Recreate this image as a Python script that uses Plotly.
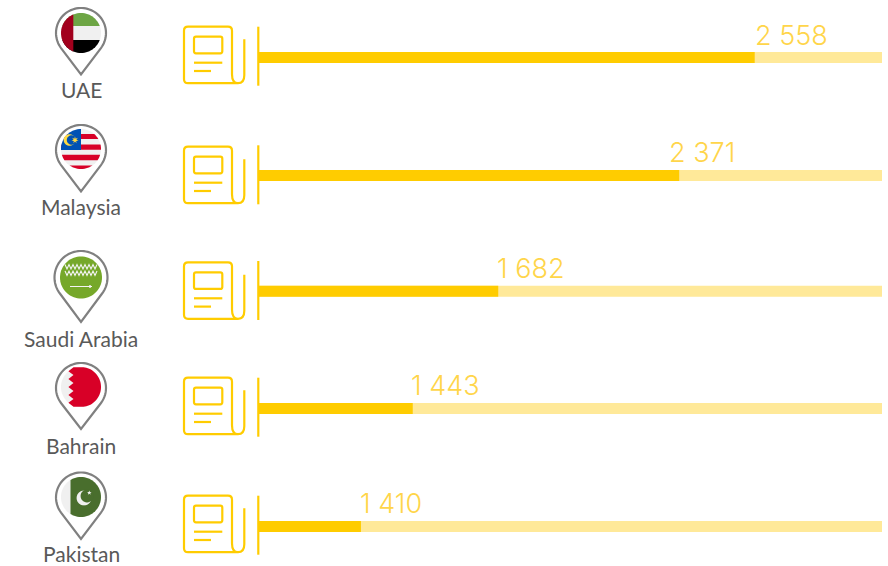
import numpy as np
import plotly.graph_objects as go

# ---- data ----
countries = ["UAE", "Malaysia", "Saudi Arabia", "Bahrain", "Pakistan"]
values = [2558, 2371, 1682, 1443, 1410]
fill_share = [79.6, 67.5, 38.5, 24.8, 16.5]   # filled part of each track, % (as drawn)
track_share = [100, 100, 100, 100, 100]

# ---- layout (pixels) ----
W, H = 888, 566
row_y = [57.5, 175.5, 291.2, 408.5, 526.5]
label_x = [755, 669, 497, 411, 360]
label_y = [35, 152, 268, 385, 503]
name_y = [89, 206, 338, 445, 553.5]
pin_y = [33, 150, 277.5, 388, 497.5]
pin_r = [25, 25, 26.5, 25, 25]
tip_y = [74.5, 191.5, 322, 429, 539]
flag_y = [33, 149, 277.5, 387, 497]
flag_r = [20, 20, 21, 20, 20]
icon_top = [26.7, 146.7, 262.3, 377.7, 495.7]
rule_top = [26.7, 145.3, 261, 377.7, 495.7]
PX = 81
BAR, TRACK, TXT, ICON = "#FFCC00", "#FFE999", "#FFD54A", "#FFCC00"
GREY, NAME = "#808080", "#595959"
LIGHT = "#F0F0F0"

shapes = []


def path(points, close=True):
    return "M" + "L".join(f"{x:.2f},{y:.2f}" for x, y in points) + ("Z" if close else "")


def add(d, fill=None, line=None, lw=0):
    s = dict(type="path", path=d, xref="x", yref="y", layer="above",
             line=dict(width=lw, color=line or "rgba(0,0,0,0)"))
    if fill:
        s["fillcolor"] = fill
    shapes.append(s)


def disc(cx, cy, r, n=72):
    a = np.linspace(0, 2 * np.pi, n, endpoint=False)
    return list(zip(cx + r * np.cos(a), cy + r * np.sin(a)))


def clip(poly, x0=-1e9, x1=1e9, y0=-1e9, y1=1e9):
    planes = [(0, x0, 1), (0, x1, -1), (1, y0, 1), (1, y1, -1)]
    for axis, v, sign in planes:
        out = []
        for i, p in enumerate(poly):
            q = poly[(i + 1) % len(poly)]
            dp, dq = sign * (p[axis] - v), sign * (q[axis] - v)
            if dp >= 0:
                out.append(p)
            if dp * dq < 0:
                t = dp / (dp - dq)
                out.append((p[0] + t * (q[0] - p[0]), p[1] + t * (q[1] - p[1])))
        poly = out
        if not poly:
            return []
    return poly


def band(cx, cy, r, color, **kw):
    poly = clip(disc(cx, cy, r), **kw)
    if poly:
        add(path(poly), fill=color)


def star(cx, cy, r, n=5, inner=0.42):
    a = -np.pi / 2 + np.arange(2 * n) * np.pi / n
    rr = np.where(np.arange(2 * n) % 2 == 0, r, r * inner)
    return list(zip(cx + rr * np.cos(a), cy + rr * np.sin(a)))


def pin(i):
    cy, r, tip = pin_y[i], pin_r[i], tip_y[i]
    s = (tip - cy)
    ang = np.arccos(r / s)
    a = np.linspace(np.pi / 2 + ang, np.pi / 2 - ang + 2 * np.pi, 60)
    pts = list(zip(PX + r * np.cos(a), cy + r * np.sin(a))) + [(PX, tip)]
    add(path(pts), fill="#FFFFFF", line=GREY, lw=2.2)


def flag_uae(cy, r):
    band(PX, cy, r, LIGHT)
    band(PX, cy, r, "#6DA544", y1=cy - 7)
    band(PX, cy, r, "#000000", y0=cy + 7)
    band(PX, cy, r, "#A2001D", x1=PX - 7.7)


def flag_malaysia(cy, r):
    band(PX, cy, r, LIGHT)
    for a, b in [(-15, -10), (-4.6, 0.7), (5.8, 11.2), (16.4, 21)]:
        band(PX, cy, r, "#D80027", y0=cy + a, y1=cy + b)
    band(PX, cy, r, "#0052B4", x1=PX, y1=cy + 1)
    add(path(disc(PX - 11.5, cy - 9, 5.8)), fill="#FFDA44")
    add(path(disc(PX - 9.5, cy - 9, 4.7)), fill="#0052B4")
    add(path(star(PX - 6, cy - 9, 3.6, n=7)), fill="#FFDA44")


def flag_saudi(cy, r):
    add(path(disc(PX, cy, r)), fill="#76A82A")
    xs = np.arange(PX - 16, PX + 17, 2.0)
    for dy0 in (-13, -6.5):
        zig = [(x, cy + dy0 + (j % 2) * 4.5) for j, x in enumerate(xs)]
        add(path(zig, close=False), line="#F4F4F4", lw=1.1)
    add(path([(PX - 11, cy + 9), (PX + 11, cy + 9)], close=False), line="#F4F4F4", lw=1)
    add(path([(PX + 9, cy + 7.5), (PX + 9, cy + 10.5)], close=False), line="#F4F4F4", lw=1.4)


def flag_bahrain(cy, r):
    add(path(disc(PX, cy, r)), fill=LIGHT)
    a = np.linspace(-np.pi / 2 + 0.12, np.pi / 2 - 0.12, 40)
    arc = list(zip(PX + r * np.cos(a), cy + r * np.sin(a)))
    zig = []
    teeth = 5
    ys = np.linspace(cy + r * 0.99, cy - r * 0.99, 2 * teeth + 1)
    for j, y in enumerate(ys):
        zig.append((PX - (12.6 if j % 2 else 7.5), y))
    add(path(arc + zig), fill="#D80027")


def flag_pakistan(cy, r):
    band(PX, cy, r, LIGHT)
    band(PX, cy, r, "#496E2D", x0=PX - 10.5)
    add(path(disc(PX + 3, cy + 1, 7.4)), fill=LIGHT)
    add(path(disc(PX + 6, cy - 1, 6.4)), fill="#496E2D")
    add(path(star(PX + 8.3, cy - 4.2, 2.4)), fill=LIGHT)


def newspaper(top, rule):
    x0, x1, xr = 184, 232, 244.3
    t, b = top, top + 56.5
    c = 4
    d = (f"M{x0 + c},{t} L{x1 - c},{t} Q{x1},{t} {x1},{t + c} L{x1},{b - 9} "
         f"Q{x1},{b} {x1 + 6},{b} Q{xr},{b} {xr},{b - 8} L{xr},{t + 12.5} "
         f"M{x1 + 6},{b} L{x0 + c},{b} Q{x0},{b} {x0},{b - c} L{x0},{t + c} Q{x0},{t} {x0 + c},{t}")
    add(d, line=ICON, lw=2.2)
    r0, r1 = 194, 222.3
    add(f"M{r0 + 2},{t + 10} L{r1 - 2},{t + 10} Q{r1},{t + 10} {r1},{t + 12} L{r1},{t + 24.6} "
        f"Q{r1},{t + 26.6} {r1 - 2},{t + 26.6} L{r0 + 2},{t + 26.6} Q{r0},{t + 26.6} {r0},{t + 24.6} "
        f"L{r0},{t + 12} Q{r0},{t + 10} {r0 + 2},{t + 10}Z", line=ICON, lw=2.2)
    add(f"M{r0},{t + 36} L{r1},{t + 36}", line=ICON, lw=2.2)
    add(f"M{r0},{t + 44.3} L{r0 + 17},{t + 44.3}", line=ICON, lw=2.2)
    add(f"M258.3,{rule} L258.3,{rule + 59}", line=ICON, lw=2.2)


flags = [flag_uae, flag_malaysia, flag_saudi, flag_bahrain, flag_pakistan]
for i in range(len(countries)):
    pin(i)
    flags[i](flag_y[i], flag_r[i])
    newspaper(icon_top[i], rule_top[i])

annotations = []
for i, c in enumerate(countries):
    annotations.append(dict(x=PX, y=name_y[i], xref="x", yref="y", text=c, showarrow=False,
                            xanchor="center", yanchor="middle", borderpad=0,
                            font=dict(family="Lato", size=21, color=NAME)))
    txt = f"{values[i]:,}".replace(",", " ")
    annotations.append(dict(x=label_x[i], y=label_y[i], xref="x", yref="y", text=txt, showarrow=False,
                            xanchor="left", yanchor="middle", xshift=-2,
                            font=dict(family="Inter", size=27, color=TXT, weight=300)))

fig = go.Figure()
fig.add_bar(x=track_share, y=row_y, orientation="h", width=11, xaxis="x2", yaxis="y",
            marker=dict(color=TRACK, line_width=0), hoverinfo="skip", showlegend=False)
fig.add_bar(x=fill_share, y=row_y, orientation="h", width=11, xaxis="x2", yaxis="y",
            marker=dict(color=BAR, line_width=0), hoverinfo="skip", showlegend=False)
fig.update_layout(
    width=W, height=H, margin=dict(l=0, r=0, t=0, b=0),
    paper_bgcolor="white", plot_bgcolor="white", barmode="overlay", showlegend=False,
    xaxis=dict(domain=[0, 1], range=[0, W], anchor="y", visible=False, fixedrange=True),
    xaxis2=dict(domain=[258 / W, 882 / W], range=[0, 100], anchor="y", visible=False, fixedrange=True),
    yaxis=dict(domain=[0, 1], range=[H, 0], visible=False, fixedrange=True),
    shapes=shapes, annotations=annotations,
)
fig.write_html("out.html", config={"displayModeBar": False},
               post_script="document.body.style.margin='0';")
